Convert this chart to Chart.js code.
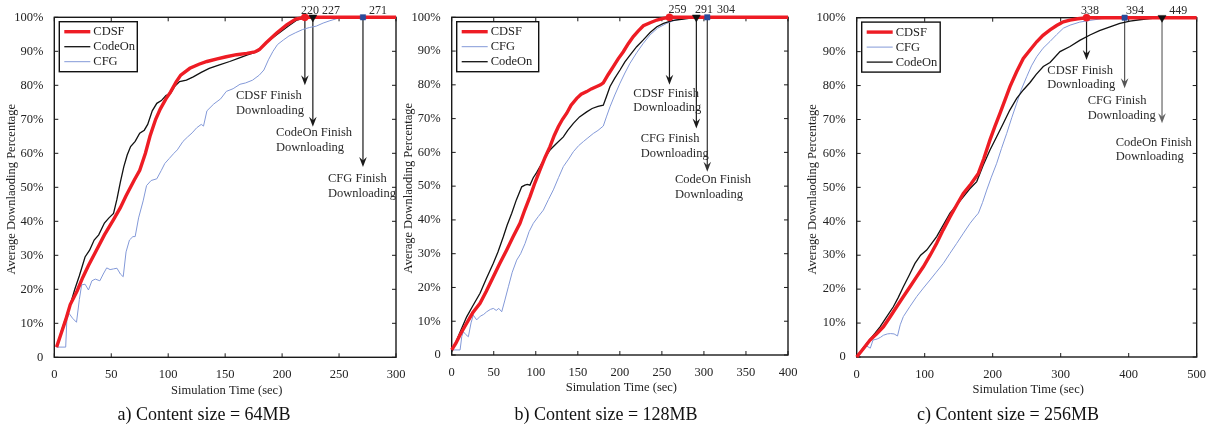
<!DOCTYPE html>
<html>
<head>
<meta charset="utf-8">
<script src="https://cdn.jsdelivr.net/npm/chart.js@4.4.0/dist/chart.umd.min.js"></script>
<style>
  body { margin: 0; background: #fff; width: 1218px; height: 428px; position: relative; overflow: hidden; }
  .panel { position: absolute; top: 0; height: 428px; }
</style>
</head>
<body>
<div class="panel" style="left:0;width:412px"><canvas id="chartA"></canvas></div>
<div class="panel" style="left:400px;width:412px"><canvas id="chartB"></canvas></div>
<div class="panel" style="left:805px;width:413px"><canvas id="chartC"></canvas></div>
<script>
// ---- data: [time (sec), average downloading %] ----
const cdsf64 = [[2,3],[6,7],[10,11],[14,15.5],[20,19.5],[25,23.5],[30,27],[37,31.5],[44,36],[52,40.5],[58,44],[63,47.5],[70,52],[75,55],[80,60],[84,65],[89,70],[93,73],[98,76],[102,78],[107,81],[111,83],[119,85],[127,86.2],[134,87],[143,87.8],[151,88.4],[160,89],[169,89.4],[176,89.8],[180,90.5],[186,92.5],[195,95.3],[204,97.8],[212,99.5],[220,100],[300,100]];
const codeOn64 = [[2,3],[6,7.5],[10,11.5],[14,15.5],[18,20],[22,24],[27,29.5],[31,31.5],[35,34.5],[39,36],[44,39.5],[48,41],[52,42.3],[55,46.5],[58,51.5],[61,56],[64,59.5],[67,62],[71,63.5],[75,65.9],[79,66.8],[82,68.5],[86,72.5],[90,74.7],[94,75.5],[98,77],[102,77.6],[106,79.8],[110,81.1],[116,81.5],[122,82.5],[129,83.8],[136,85],[145,86],[154,87],[162,88],[169,88.9],[175,89.5],[179,90],[185,92.2],[195,94.8],[205,97.3],[213,99.2],[220,99.8],[227,100],[300,100]];
const cfg64 = [[2,3],[10,3],[11,11],[13,12.9],[16,11.5],[19.5,10.3],[22,17],[24,21.3],[27,21.5],[30,19.8],[33,22.5],[36,23],[40,22.5],[43,24.5],[46,26.3],[49,25.8],[52,26],[55,26.2],[58,24.5],[60.5,23.7],[63,31],[66,34.5],[69,35.5],[71,35.5],[74,41],[78,46],[81,50.5],[85,52],[90,52.5],[94,55],[97,57],[101,58.5],[105,60],[108,61],[113,63.5],[117,64.8],[121,66],[125,67.5],[129,68.5],[131,68],[134,72.5],[140,74.5],[146,76],[151,78.2],[157,79],[163,80.3],[168,80.7],[174,81.5],[180,83],[184,84.5],[188,87.5],[192,90],[196,92],[201,93.3],[206,94.5],[212,95.5],[218,96.4],[224,97],[230,97.4],[236,98.3],[242,99],[248,99.6],[254,100],[300,100]];

const cdsf128 = [[0,1.5],[5,3.5],[10,6],[17.8,9.4],[25,12.5],[33.7,15.3],[41,18.8],[49.5,23.2],[57,27],[65.4,31.1],[73,35],[81.2,39],[87,43],[93.1,46.9],[99,51],[105,54.8],[111,58.5],[116.9,61.7],[122,65],[126.8,67.6],[131.8,69.8],[136.8,71.6],[142,74],[148.7,76],[154,77.2],[160.6,78],[166,78.8],[172.5,79.5],[177,80],[180.3,80.6],[186,83],[192.2,85.4],[198,87.7],[204.1,89.8],[210,92.2],[216,94.3],[222,96],[228,97.5],[236,98.4],[244,99.2],[251.7,99.7],[259,100],[400,100]];
const codeOn128 = [[0,1],[5,3.8],[10,6.8],[17.8,11.3],[25,14.5],[33.7,18.3],[41,22.5],[49.5,27.2],[55,30.5],[61.4,35],[66,38.5],[71.4,42],[77,46],[83.3,49.8],[87,50.3],[90,50.5],[93.1,50.3],[97,52.5],[101,54],[105,55.8],[111,58.5],[116.9,60.7],[124,62.5],[132.8,64.6],[138,66.5],[144.7,68.6],[152,70.5],[160.6,72],[167,73],[174,73.6],[180.3,74],[184,76.5],[188.3,79.5],[194,82],[200.2,84.4],[206,86.8],[212.1,88.8],[220,91.3],[227.9,93.3],[236,95.5],[244,97.2],[252,98.2],[262,99],[275.5,99.5],[291,100],[400,100]];
const cfg128 = [[0,1.5],[10,1.5],[12,5.5],[13.8,6.9],[17,6],[19.8,5.4],[23,9.5],[25.7,11.8],[29.7,10.4],[34,11.5],[38,12],[41.6,12.8],[46,13.5],[49.5,13.8],[53,13.2],[56,13.8],[59.5,12.8],[63,16],[67.4,20.2],[72,24.5],[77.3,28.1],[82,30],[87.2,33],[92,36.5],[97.1,39],[103,41],[109,42.9],[115,46],[120.9,48.9],[127,52.5],[132.8,55.8],[139,58],[144.7,60.2],[151,62],[156.6,63.2],[162,64.3],[168.4,65.6],[174,66.5],[180.3,67.8],[184,70.5],[188.3,73.5],[194,77],[200.2,80.5],[206,83.5],[212.1,86.4],[220,89.5],[227.9,92.3],[236,94.8],[245,96.8],[255.7,98.2],[266,99.2],[280,99.7],[295,100],[400,100]];

const cdsf256 = [[0,0],[10,2.5],[19.6,5],[29,6.8],[39.2,8.9],[49,11.8],[58.8,14.8],[68,17.6],[78.4,20.7],[88,23.6],[98,26.6],[108,30],[117.6,33.5],[127,37.4],[137.2,41.3],[147,44.8],[156.8,48.2],[168,51],[178.9,54.1],[187,58.5],[196,64],[203,67.8],[210.7,71.8],[218,75.7],[225.4,79.7],[235,84],[245,88],[254.9,90.5],[264.7,92.9],[274,94.8],[284.3,96.4],[294,97.7],[303.9,98.8],[313.7,99.3],[325,99.7],[338,100],[500,100]];
const codeOn256 = [[0,0],[10,2.8],[20,5.3],[27,7],[34.3,8.9],[44,11.8],[53.9,14.8],[61,17.5],[68.6,20.7],[77,24],[85.7,27.6],[94,30],[102.9,31.5],[110,33.4],[117.6,35.5],[127,38.8],[137.2,42.4],[147,44.8],[156.8,47.2],[166,49.5],[176.5,51.7],[186,56.5],[196,61],[206,65],[215.7,68.9],[225,72.7],[235.3,76.2],[245,78.7],[254.9,80.9],[264,83.3],[274.4,85.6],[284.3,86.8],[299,90],[313.7,91.5],[328,93.3],[343,94.9],[357,96.2],[372.5,97.3],[387,98.3],[401.9,99],[416,99.4],[431,99.7],[449,100],[500,100]];
const cfg256 = [[0,0],[5,1],[10,2.8],[15,3.2],[20,2.6],[24,5],[30,5.3],[35,5.8],[39.2,6.4],[45,6.8],[50,6.9],[55,6.8],[60,6.2],[64,9.5],[68.6,11.9],[78,14.8],[88.2,17.8],[98,20.3],[107.8,22.7],[117,25],[127.5,27.6],[137,30.5],[147.1,33.5],[157,36.5],[166.7,39.4],[173,41],[179,42.4],[185,45.5],[191.2,49.2],[198,53],[205.9,57.1],[213,61.5],[220.6,65.9],[228,70.5],[235.3,74.8],[242,78.8],[250,82.6],[257,85.8],[264.7,88.5],[274,91],[284.3,93],[294,95],[303.9,96.9],[313.7,97.8],[328,98.7],[343,99.2],[360,99.7],[380,100],[500,100]];

// finish times marked on top of each panel
const finishA = [220, 227, 271];
const finishB = [259, 291, 304];
const finishC = [338, 394, 449];

const yTicks = [0, 10, 20, 30, 40, 50, 60, 70, 80, 90, 100];

const serif = '"Liberation Serif", "DejaVu Serif", serif';
const styles = {
  CDSF:   { color: '#ee1c24', width: 3.4, marker: 'circle', markerColor: '#ee1c24', r: 3.6 },
  CodeOn: { color: '#111111', width: 1.3, marker: 'triangle', markerColor: '#111111', r: 4.6 },
  CFG:    { color: '#8399d8', width: 1,   marker: 'rect', markerColor: '#2b4c9b', r: 3.8 }
};

Chart.defaults.font.family = serif;
Chart.defaults.color = '#222';

const panels = [
  {
    id: 'chartA', width: 412, area: { left: 54.3, top: 17.3, right: 396, bottom: 357.3 },
    xMax: 300, xStep: 50, caption: 'a) Content size = 64MB', captionX: 204, yTitleX: 12, legendW: 78,
    series: { CDSF: cdsf64, CodeOn: codeOn64, CFG: cfg64 },
    legend: ['CDSF', 'CodeOn', 'CFG'],
    finish: finishA,
    notes: [
      { marker: 'CDSF',   text: 'CDSF Finish',   end: 80,   tx: 159.5, ty: 76.9, numT: 224.5, color: '#1a1a1a' },
      { marker: 'CodeOn', text: 'CodeOn Finish', end: 67.8, tx: 194.7, ty: 66,   numT: 243,   color: '#1a1a1a' },
      { marker: 'CFG',    text: 'CFG Finish',    end: 56,   tx: 240.3, ty: 52.4, numT: 284.2, color: '#1a1a1a' }
    ], numV: 102
  },
  {
    id: 'chartB', width: 412, area: { left: 51.7, top: 17.3, right: 388, bottom: 355 },
    xMax: 400, xStep: 50, caption: 'b) Content size = 128MB', captionX: 206, yTitleX: 9, legendW: 82,
    series: { CDSF: cdsf128, CodeOn: codeOn128, CFG: cfg128 },
    legend: ['CDSF', 'CFG', 'CodeOn'],
    finish: finishB,
    notes: [
      { marker: 'CDSF',   text: 'CDSF Finish',   end: 80,   tx: 216,   ty: 77.5, numT: 268.6, color: '#1a1a1a' },
      { marker: 'CodeOn', text: 'CFG Finish',    end: 67.1, tx: 224.8, ty: 64,   numT: 300,   color: '#1a1a1a' },
      { marker: 'CFG',    text: 'CodeOn Finish', end: 54.3, tx: 265.6, ty: 51.8, numT: 326.2, color: '#333' }
    ], numV: 102.3
  },
  {
    id: 'chartC', width: 413, area: { left: 51.7, top: 17.7, right: 391.7, bottom: 357 },
    xMax: 500, xStep: 100, caption: 'c) Content size = 256MB', captionX: 203, yTitleX: 8, legendW: 78.5,
    series: { CDSF: cdsf256, CodeOn: codeOn256, CFG: cfg256 },
    legend: ['CDSF', 'CFG', 'CodeOn'],
    finish: finishC,
    notes: [
      { marker: 'CDSF',   text: 'CDSF Finish',   end: 87.5, tx: 280.3, ty: 84.4, numT: 343,   color: '#1a1a1a' },
      { marker: 'CFG',    text: 'CFG Finish',    end: 79.2, tx: 339.7, ty: 75.4, numT: 409.3, color: '#555' },
      { marker: 'CodeOn', text: 'CodeOn Finish', end: 68.9, tx: 380.9, ty: 63.2, numT: 473,   color: '#666' }
    ], numV: 102
  }
];

function seg(ctx, x1, y1, x2, y2) {
  ctx.beginPath(); ctx.moveTo(x1, y1); ctx.lineTo(x2, y2); ctx.stroke();
}

// frame with inward ticks, arrows, labels, legend, titles
const figurePlugin = {
  id: 'figure',
  beforeDatasetsDraw(chart) {
    const p = chart.options.plugins.figure.panel;
    const { ctx, chartArea: a, scales: { x, y } } = chart;
    ctx.save();
    ctx.strokeStyle = '#1a1a1a';
    ctx.lineWidth = 1;
    x.ticks.forEach(t => {
      const px = x.getPixelForValue(t.value);
      seg(ctx, px, a.bottom, px, a.bottom - 4);
      seg(ctx, px, a.top, px, a.top + 4);
    });
    y.ticks.forEach(t => {
      const py = y.getPixelForValue(t.value);
      seg(ctx, a.left, py, a.left + 4, py);
      seg(ctx, a.right, py, a.right - 4, py);
    });
    ctx.lineWidth = 1.4;
    ctx.strokeRect(a.left, a.top, a.right - a.left, a.bottom - a.top);

    // arrows from the finish point down to the note
    p.notes.forEach((n, i) => {
      const px = x.getPixelForValue(p.finish[i]);
      const y0 = y.getPixelForValue(100);
      const y1 = y.getPixelForValue(n.end);
      ctx.strokeStyle = n.color; ctx.fillStyle = n.color;
      ctx.lineWidth = 1.2;
      seg(ctx, px, y0, px, y1 - 4);
      ctx.beginPath();
      ctx.moveTo(px, y1);
      ctx.lineTo(px - 3.8, y1 - 10);
      ctx.lineTo(px, y1 - 6.5);
      ctx.lineTo(px + 3.8, y1 - 10);
      ctx.closePath();
      ctx.fill();
    });
    ctx.restore();
  },
  afterDraw(chart) {
    const p = chart.options.plugins.figure.panel;
    const { ctx, chartArea: a, scales: { x, y } } = chart;
    ctx.save();
    // finish notes
    ctx.fillStyle = '#2a2a2a';
    ctx.textBaseline = 'middle';
    p.notes.forEach((n, i) => {
      ctx.font = '12.5px ' + serif;
      ctx.textAlign = 'left';
      const lx = x.getPixelForValue(n.tx), ly = y.getPixelForValue(n.ty);
      ctx.fillText(n.text, lx, ly);
      ctx.fillText('Downloading', lx, ly + 14.5);
      ctx.font = '12px ' + serif;
      ctx.textAlign = 'center';
      ctx.fillText(String(p.finish[i]), x.getPixelForValue(n.numT), y.getPixelForValue(p.numV));
    });

    // legend box
    const bx = a.left + 5, by = a.top + 4.4, bw = p.legendW, bh = 50;
    ctx.fillStyle = '#fff';
    ctx.fillRect(bx, by, bw, bh);
    ctx.strokeStyle = '#111'; ctx.lineWidth = 1.4;
    ctx.strokeRect(bx, by, bw, bh);
    ctx.font = '12.5px ' + serif;
    ctx.textAlign = 'left';
    p.legend.forEach((name, i) => {
      const ly = by + 10 + i * 15;
      ctx.strokeStyle = styles[name].color;
      ctx.lineWidth = styles[name].width;
      seg(ctx, bx + 5, ly, bx + 31, ly);
      ctx.fillStyle = '#222';
      ctx.fillText(name, bx + 34, ly + 0.5);
    });

    // axis titles and caption
    ctx.fillStyle = '#222';
    ctx.textAlign = 'center';
    ctx.font = '12.5px ' + serif;
    ctx.fillText('Simulation Time (sec)', (a.left + a.right) / 2 + 1.5, a.bottom + 33);
    ctx.save();
    ctx.translate(p.yTitleX, (a.top + a.bottom) / 2 + 2);
    ctx.rotate(-Math.PI / 2);
    ctx.fillText('Average Downlaoding Percentage', 0, 0);
    ctx.restore();
    ctx.fillStyle = '#111';
    ctx.font = '18px ' + serif;
    ctx.fillText(p.caption, p.captionX, 415);
    ctx.restore();
  }
};

panels.forEach(p => {
  const names = ['CDSF', 'CodeOn', 'CFG'];
  // markers first so they are painted on top of the curves
  const markerSets = p.notes.map((n, i) => ({
    label: n.marker + ' finish',
    data: [[p.finish[i], 100]],
    showLine: false,
    clip: false,
    pointStyle: styles[n.marker].marker,
    rotation: styles[n.marker].marker === 'triangle' ? 180 : 0,
    pointRadius: styles[n.marker].r,
    pointBackgroundColor: styles[n.marker].markerColor,
    pointBorderColor: styles[n.marker].markerColor,
    pointBorderWidth: 0.5
  }));
  const lineSets = names.map(name => ({
    label: name,
    data: p.series[name],
    borderColor: styles[name].color,
    borderWidth: styles[name].width,
    pointRadius: 0,
    tension: 0,
    clip: false
  }));

  new Chart(document.getElementById(p.id), {
    type: 'line',
    data: { datasets: markerSets.concat(lineSets) },
    options: {
      responsive: true,
      maintainAspectRatio: false,
      animation: false,
      events: [],
      layout: { autoPadding: false, padding: { left: 0, top: p.area.top, right: p.width - p.area.right, bottom: 0 } },
      plugins: { legend: { display: false }, tooltip: { enabled: false }, figure: { panel: p } },
      scales: {
        x: {
          type: 'linear', min: 0, max: p.xMax,
          grid: { display: false }, border: { display: false },
          ticks: { stepSize: p.xStep, padding: 2, font: { size: 12.5 }, color: '#222', maxRotation: 0 },
          afterFit: s => { s.height = 428 - p.area.bottom; s.paddingLeft = 0; s.paddingRight = 0; }
        },
        y: {
          type: 'linear', min: 0, max: 100,
          grid: { display: false }, border: { display: false },
          afterBuildTicks: s => { s.ticks = yTicks.map(v => ({ value: v })); },
          ticks: { padding: 3, font: { size: 12.5 }, color: '#222', callback: v => v === 0 ? '0' : v + '%' },
          afterFit: s => { s.width = p.area.left; s.paddingTop = 0; s.paddingBottom = 0; }
        }
      }
    },
    plugins: [figurePlugin]
  });
});
</script>
</body>
</html>
